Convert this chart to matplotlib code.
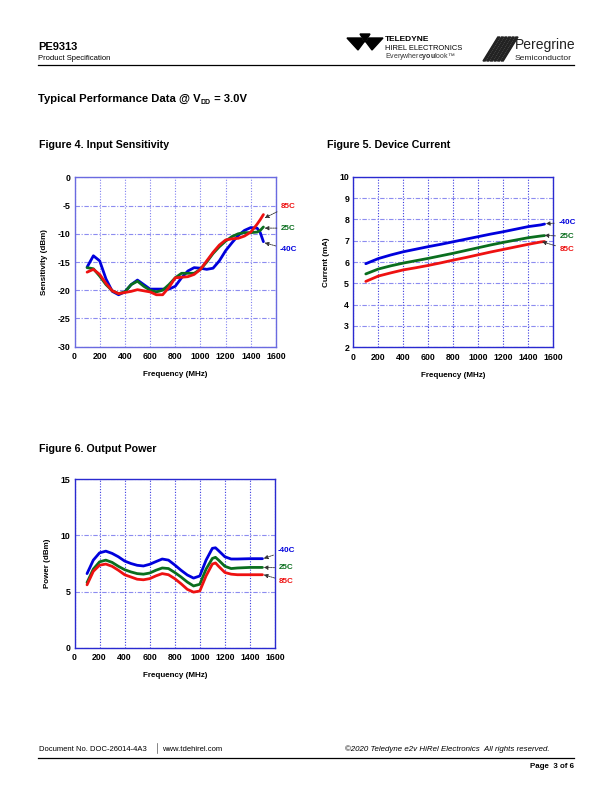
import numpy as np
import matplotlib
matplotlib.use("Agg")
import matplotlib.pyplot as plt
from matplotlib.patches import Polygon

plt.rcParams['font.family'] = ['Liberation Sans', 'DejaVu Sans']
plt.rcParams['axes.unicode_minus'] = False
plt.rcParams['mathtext.fontset'] = 'custom'
plt.rcParams['mathtext.rm'] = 'Liberation Sans'
plt.rcParams['mathtext.bf'] = 'Liberation Sans:bold'

# ── Figure 4: input sensitivity (dBm) ───────────────────────────────────────
sens_freq = [100, 150, 200, 250, 300, 350, 400, 450, 500, 550, 600, 650, 700,
             750, 800, 850, 900, 950, 1000, 1050, 1100, 1150, 1200, 1250,
             1300, 1350, 1400, 1450, 1475, 1500]
sens_m40 = [-15.9, -13.9, -14.8, -18.0, -20.2, -20.8, -20.3, -19.0, -18.2, -19.0,
            -19.8, -19.8, -19.8, -19.8, -19.3, -17.8, -16.6, -16.0, -16.1, -16.3,
            -16.1, -14.8, -13.0, -11.6, -10.3, -9.4, -8.9, -9.0, -9.8, -11.4]
sens_25 = [-16.0, -16.2, -17.5, -19.0, -20.1, -20.6, -20.3, -19.0, -18.4, -19.3,
           -20.0, -20.3, -20.0, -19.0, -17.8, -17.0, -17.0, -17.0, -16.3, -15.0,
           -13.5, -12.3, -11.3, -10.5, -10.0, -9.8, -9.8, -9.7, -9.4, -8.8]
sens_85 = [-16.8, -16.3, -17.2, -18.8, -20.1, -20.6, -20.4, -20.2, -19.9, -20.1,
           -20.3, -20.8, -20.8, -19.5, -17.8, -17.7, -17.6, -17.2, -16.3, -14.8,
           -13.3, -12.0, -11.1, -10.9, -10.8, -10.4, -9.7, -8.3, -7.5, -6.6]

# ── Figure 5: device current (mA) ───────────────────────────────────────────
cur_freq = [100, 200, 300, 400, 500, 600, 700, 800, 900, 1000, 1100, 1200,
            1300, 1400, 1500, 1530]
cur_m40 = [5.92, 6.16, 6.33, 6.48, 6.60, 6.72, 6.83, 6.95, 7.07, 7.19, 7.31,
           7.42, 7.54, 7.66, 7.74, 7.78]
cur_25 = [5.44, 5.67, 5.82, 5.95, 6.06, 6.17, 6.29, 6.41, 6.54, 6.67, 6.80,
          6.92, 7.03, 7.14, 7.22, 7.24]
cur_85 = [5.09, 5.34, 5.49, 5.63, 5.73, 5.84, 5.96, 6.09, 6.21, 6.34, 6.47,
          6.59, 6.71, 6.83, 6.94, 6.96]

# ── Figure 6: output power (dBm) ────────────────────────────────────────────
pwr_freq = [100, 150, 200, 250, 300, 350, 400, 450, 500, 550, 600, 650, 700,
            750, 800, 850, 900, 950, 1000, 1050, 1100, 1125, 1150, 1200, 1250,
            1300, 1400, 1500]
pwr_m40 = [6.6, 7.8, 8.45, 8.6, 8.4, 8.1, 7.72, 7.5, 7.34, 7.28, 7.43, 7.67,
           7.9, 7.8, 7.37, 6.9, 6.48, 6.2, 6.39, 7.8, 8.85, 8.9, 8.64, 8.1,
           7.9, 7.9, 7.93, 7.93]
pwr_25 = [5.8, 7.0, 7.65, 7.8, 7.6, 7.25, 6.95, 6.75, 6.6, 6.55, 6.65, 6.9,
          7.1, 7.05, 6.7, 6.3, 5.85, 5.5, 5.65, 7.0, 7.95, 8.05, 7.8, 7.25,
          7.05, 7.1, 7.15, 7.15]
pwr_85 = [5.6, 6.8, 7.35, 7.45, 7.25, 6.9, 6.5, 6.3, 6.1, 6.05, 6.15, 6.4,
          6.6, 6.5, 6.15, 5.7, 5.2, 4.95, 5.05, 6.4, 7.45, 7.55, 7.25, 6.7,
          6.55, 6.5, 6.5, 6.5]

labels = ['-40C', '25C', '85C']
colors = ['#0000dd', '#0a6e1e', '#ee1111']

W, H = 612, 792
fig = plt.figure(figsize=(W / 100, H / 100), dpi=100)
renderer = fig.canvas.get_renderer()


def px(x, y):
    return x / W, 1 - y / H


def ftext(x, y, s, **kw):
    kw.setdefault('fontsize', 7)
    return fig.text(*px(x, y), s, va='baseline', **kw)


def chain(x, y, parts, drops=None):
    # place text pieces one after another on the same baseline
    for i, (s, kw) in enumerate(parts):
        dy = drops[i] if drops else 0
        t = ftext(x, y + dy, s, **kw)
        x = t.get_window_extent(renderer).x1


def add_axes(x0, y0, x1, y1):
    return fig.add_axes([x0 / W, 1 - y1 / H, (x1 - x0) / W, (y1 - y0) / H])


def style_axes(ax, ylim, yticks, ylabel, spine_col, vgrid):
    ax.set_xlim(0, 1600)
    ax.set_xticks(range(0, 1601, 200))
    ax.set_ylim(*ylim)
    ax.set_yticks(yticks)
    for s in ax.spines.values():
        s.set_color(spine_col)
        s.set_linewidth(1.0)
    ax.tick_params(length=0, labelsize=6.3)
    ax.tick_params(axis='y', pad=3)
    ax.tick_params(axis='x', pad=4)
    for t in ax.get_xticklabels() + ax.get_yticklabels():
        t.set_fontweight('bold')
    ax.grid(True, axis='x', color=vgrid, ls=(0, (1, 1.5)), lw=0.8)
    ax.grid(True, axis='y', color='#8c8cf0', ls=(0, (4, 1.5, 1, 1.5)), lw=0.8)
    ax.set_xlabel('Frequency (MHz)', fontsize=5.8, fontweight='bold', labelpad=7)
    ax.set_ylabel(ylabel, fontsize=5.8, fontweight='bold', labelpad=7)


def tag(ax, text, col, xy, xytext):
    ax.annotate(text, xy=xy, xytext=xytext, textcoords='data', color=col,
                fontsize=5.8, fontweight='bold', va='center', ha='left',
                annotation_clip=False,
                arrowprops=dict(arrowstyle='-|>', color='#333333', lw=0.6,
                                ls=(0, (2, 1)), mutation_scale=6,
                                shrinkA=1, shrinkB=0))


# Figure 4
ax4 = add_axes(74.5, 177.3, 276, 346.7)
for y, c in zip([sens_m40, sens_25, sens_85], colors):
    ax4.plot(sens_freq, y, color=c, lw=2.0, solid_capstyle='round')
style_axes(ax4, (-30, 0), range(-30, 1, 5), 'Sensitivity (dBm)', '#6a6ae0', '#8080f0')
tag(ax4, '85C', colors[2], (1510, -7.2), (1640, -5.1))
tag(ax4, '25C', colors[1], (1510, -9.0), (1640, -9.0))
tag(ax4, '-40C', colors[0], (1510, -11.6), (1630, -12.8))

# Figure 5
ax5 = add_axes(353.3, 176.7, 553.3, 347.3)
for y, c in zip([cur_m40, cur_25, cur_85], colors):
    ax5.plot(cur_freq, y, color=c, lw=2.0, solid_capstyle='round')
style_axes(ax5, (2, 10), range(2, 11), 'Current (mA)', '#2a2ad0', '#3a3ae0')
tag(ax5, '-40C', colors[0], (1540, 7.8), (1640, 7.85))
tag(ax5, '25C', colors[1], (1530, 7.25), (1650, 7.2))
tag(ax5, '85C', colors[2], (1510, 6.95), (1650, 6.6))

# Figure 6
ax6 = add_axes(74.5, 479.3, 275, 647.7)
for y, c in zip([pwr_m40, pwr_25, pwr_85], colors):
    ax6.plot(pwr_freq, y, color=c, lw=2.0, solid_capstyle='round')
style_axes(ax6, (0, 15), [0, 5, 10, 15], 'Power (dBm)', '#2a2ad0', '#3a3ae0')
tag(ax6, '-40C', colors[0], (1510, 7.95), (1620, 8.64))
tag(ax6, '25C', colors[1], (1510, 7.15), (1630, 7.1))
tag(ax6, '85C', colors[2], (1510, 6.5), (1630, 5.9))

# ── Page furniture ──────────────────────────────────────────────────────────
ftext(38, 50, 'PE9313', fontsize=8, fontweight='bold')
ftext(38, 60, 'Product Specification', fontsize=5.5)
fig.add_artist(plt.Line2D([38 / W, 574 / W], [1 - 65 / H] * 2, color='black', lw=0.9))

# Teledyne mark (rough)
for pts in ([(347, 38), (361, 38), (364, 42), (358, 50)],
            [(383, 38), (369, 38), (366, 42), (372, 50)],
            [(360, 34), (370, 34), (365, 42)]):
    fig.add_artist(Polygon([px(a, b) for a, b in pts], closed=True,
                           color='black', transform=fig.transFigure))
ftext(385, 41, 'TELEDYNE', fontsize=6, fontweight='bold')
ftext(385, 50, 'HIREL ELECTRONICS', fontsize=5.4)
ftext(385, 58, r'Everywhere$\mathbf{you}$look' + '\u2122', fontsize=5, color='#333333')

# Peregrine slashes (rough)
for i in range(6):
    x = 483 + i * 3.6
    pts = [(x, 61), (x + 2.2, 61), (x + 17, 37), (x + 14.8, 37)]
    fig.add_artist(Polygon([px(a, b) for a, b in pts], closed=True,
                           color='#222222', transform=fig.transFigure))
ftext(515, 49, 'Peregrine', fontsize=10, color='#222222')
ftext(515, 60, 'Semiconductor', fontsize=6.1, color='#222222')

chain(38, 102, [('Typical Performance Data @ V', dict(fontsize=8.1, fontweight='bold')),
                ('DD', dict(fontsize=5.0, fontweight='bold')),
                (' = 3.0V', dict(fontsize=8.1, fontweight='bold'))],
      drops=[0, 2, 0])

ftext(39, 147.5, 'Figure 4. Input Sensitivity', fontsize=7.7, fontweight='bold')
ftext(327, 147.5, 'Figure 5. Device Current', fontsize=7.7, fontweight='bold')
ftext(39, 452.5, 'Figure 6. Output Power', fontsize=7.7, fontweight='bold')

ftext(39, 751, 'Document No. DOC-26014-4A3', fontsize=5.5)
fig.add_artist(plt.Line2D([157 / W] * 2, [1 - 743 / H, 1 - 753 / H], color='#555555', lw=0.5))
ftext(162, 751, 'www.tdehirel.com', fontsize=5.5)
fig.text(550 / W, 1 - 751 / H, '\u00a92020 Teledyne e2v HiRel Electronics  All rights reserved.',
         fontsize=5.7, style='italic', ha='right', va='baseline')
fig.add_artist(plt.Line2D([38 / W, 574 / W], [1 - 758 / H] * 2, color='black', lw=0.9))
fig.text(574 / W, 1 - 768 / H, 'Page  3 of 6', fontsize=5.7, fontweight='bold',
         ha='right', va='baseline')

fig.savefig('out.png', dpi=100)
